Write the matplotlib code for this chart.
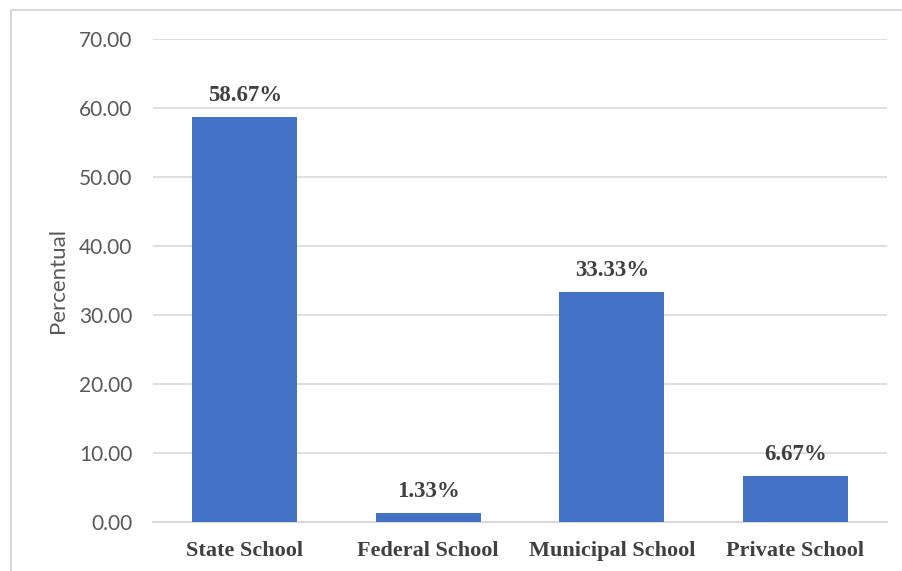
import matplotlib.pyplot as plt
from matplotlib.patches import Rectangle

schools = ["State School", "Federal School", "Municipal School", "Private School"]
percent = [58.67, 1.33, 33.33, 6.67]
y_ticks = [0, 10, 20, 30, 40, 50, 60, 70]

fig = plt.figure(figsize=(9.02, 5.71), dpi=100)
ax = fig.add_axes([0.1696, 0.0858, 0.8138, 0.8459])

x = range(len(schools))
bars = ax.bar(x, percent, width=0.57, color="#4472c4", zorder=3)

for bar, val in zip(bars, percent):
    ax.text(bar.get_x() + bar.get_width() / 2, val + 1.6, f"{val:.2f}%",
            ha="center", va="bottom", fontsize=16.5, fontweight="bold",
            family="Liberation Serif", color="#404040")

ax.set_xlim(-0.5, len(schools) - 0.5)
ax.set_ylim(0, 70)
ax.set_yticks(y_ticks)
ax.set_yticklabels([f"{t:.2f}" for t in y_ticks], fontsize=15, family="Lato", color="#595959")
ax.set_xticks(list(x))
ax.set_xticklabels(schools, fontsize=16, fontweight="bold", family="Liberation Serif", color="#404040")
ax.tick_params(axis="both", length=0)
ax.tick_params(axis="y", pad=15)
ax.tick_params(axis="x", pad=14)

ax.grid(axis="y", color="#d9d9d9", linewidth=1.2, zorder=0)
for side in ["top", "right", "left"]:
    ax.spines[side].set_visible(False)
ax.spines["bottom"].set_color("#d9d9d9")
ax.spines["bottom"].set_linewidth(1.5)

ax.set_ylabel("Percentual", fontsize=16, family="Lato", color="#595959", labelpad=8)

# chart frame, cut off at the right and bottom
fig.patches.append(Rectangle((11 / 902, -0.1), 1.2, 1 - 10 / 571 + 0.1,
                             transform=fig.transFigure, fill=False,
                             edgecolor="#d9d9d9", linewidth=1.5))

fig.savefig("out.png", dpi=100)
